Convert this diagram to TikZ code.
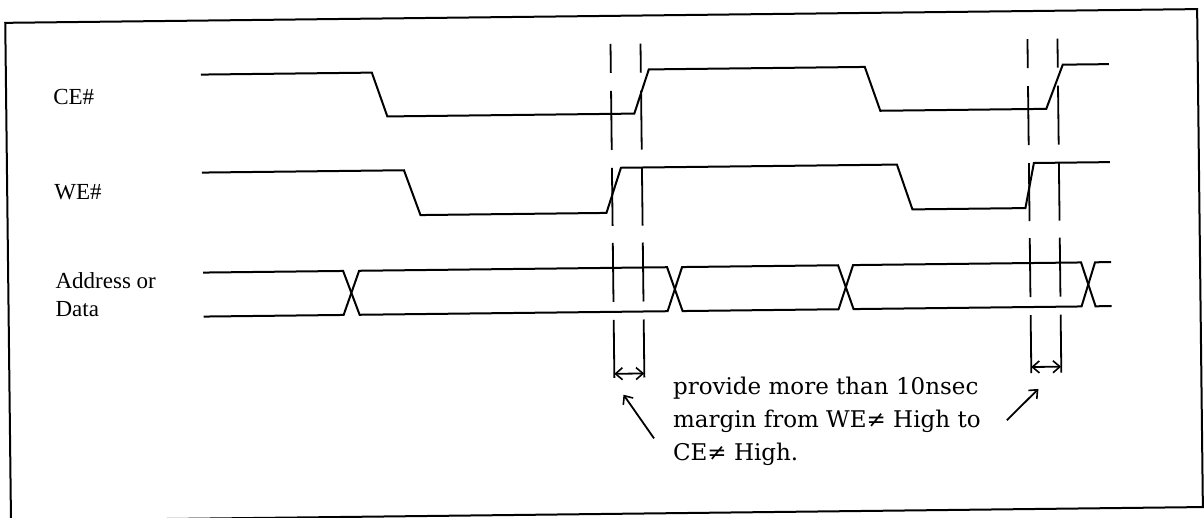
\documentclass[tikz,border=0pt]{standalone}
\usepackage{fontspec}
\setmainfont{Liberation Serif}
\newfontfamily\notefont{DejaVu Serif}
\usetikzlibrary{arrows.meta}

\begin{document}
\begin{tikzpicture}[x=1pt,y=-1pt,
			signal/.style={line width=2pt,line join=miter},
			guide/.style={line width=1.8pt},
			sig label/.style={anchor=west,inner sep=0pt,align=left,font=\fontsize{23}{28}\selectfont},
			note/.style={anchor=west,inner sep=0pt,align=left,font=\notefont\fontsize{23}{33}\selectfont},
			>={Straight Barb[length=7pt,width=12pt,line width=1.6pt]}]
			\useasboundingbox (0,0) rectangle (1204,518);
			\begin{scope}[rotate around={0.66:(600,260)}]
			% frame
			\draw[line width=2pt] (8,16) rectangle (1200,514);
			% signal names
			\node[sig label] (ce) at (55,91) {CE\#};
			\node[sig label] (we) at (55,186) {WE\#};
			\node[sig label] (bus) at (55,288) {Address or\\Data};
			% waveforms
			\draw[signal] (203,70) -- (374,70) -- (389,114) -- (636,114) -- (651,70) -- (867,70)
				-- (882,114) -- (1048,114) -- (1065,70) -- (1111,70);
			\draw[signal] (203,168) -- (405,168) -- (421,213) -- (607,213) -- (622,168) -- (898,168)
				-- (913,213) -- (1026,213) -- (1035,168) -- (1111,168);
			\draw[signal] (203,268) -- (343,268) -- (359,312) -- (667,312) -- (682,268) -- (838,268)
				-- (853,312) -- (1081,312) -- (1095,268) -- (1111,268);
			\draw[signal] (203,312) -- (343,312) -- (359,268) -- (667,268) -- (682,312) -- (838,312)
				-- (853,268) -- (1081,268) -- (1095,312) -- (1111,312);
			% broken guide lines
			\foreach \x in {613,643,1030,1060} {
				\foreach \a/\b in {44/73,91/150,168/226,243/302}
					\draw[guide] (\x,\a) -- (\x,\b);
				\draw[guide] (\x,320) -- (\x,378);
			}
			% margins
			\coordinate (m1a) at (613,374);
			\coordinate (m1b) at (643,374);
			\coordinate (m2a) at (1030,372);
			\coordinate (m2b) at (1060,372);
			\draw[guide,<->] (m1a) -- (m1b);
			\draw[guide,<->] (m2a) -- (m2b);
			% note
			\node[note] (note) at (671,422) {provide more than 10nsec\\margin from WE≠ High to\\CE≠ High.};
			\coordinate (p1) at (652,439);
			\coordinate (p1e) at (622,395);
			\coordinate (p2) at (1005,425);
			\coordinate (p2e) at (1037,394);
			\draw[guide,->] (p1) -- (p1e);
			\draw[guide,->] (p2) -- (p2e);
			\end{scope}
\end{tikzpicture}
\end{document}
